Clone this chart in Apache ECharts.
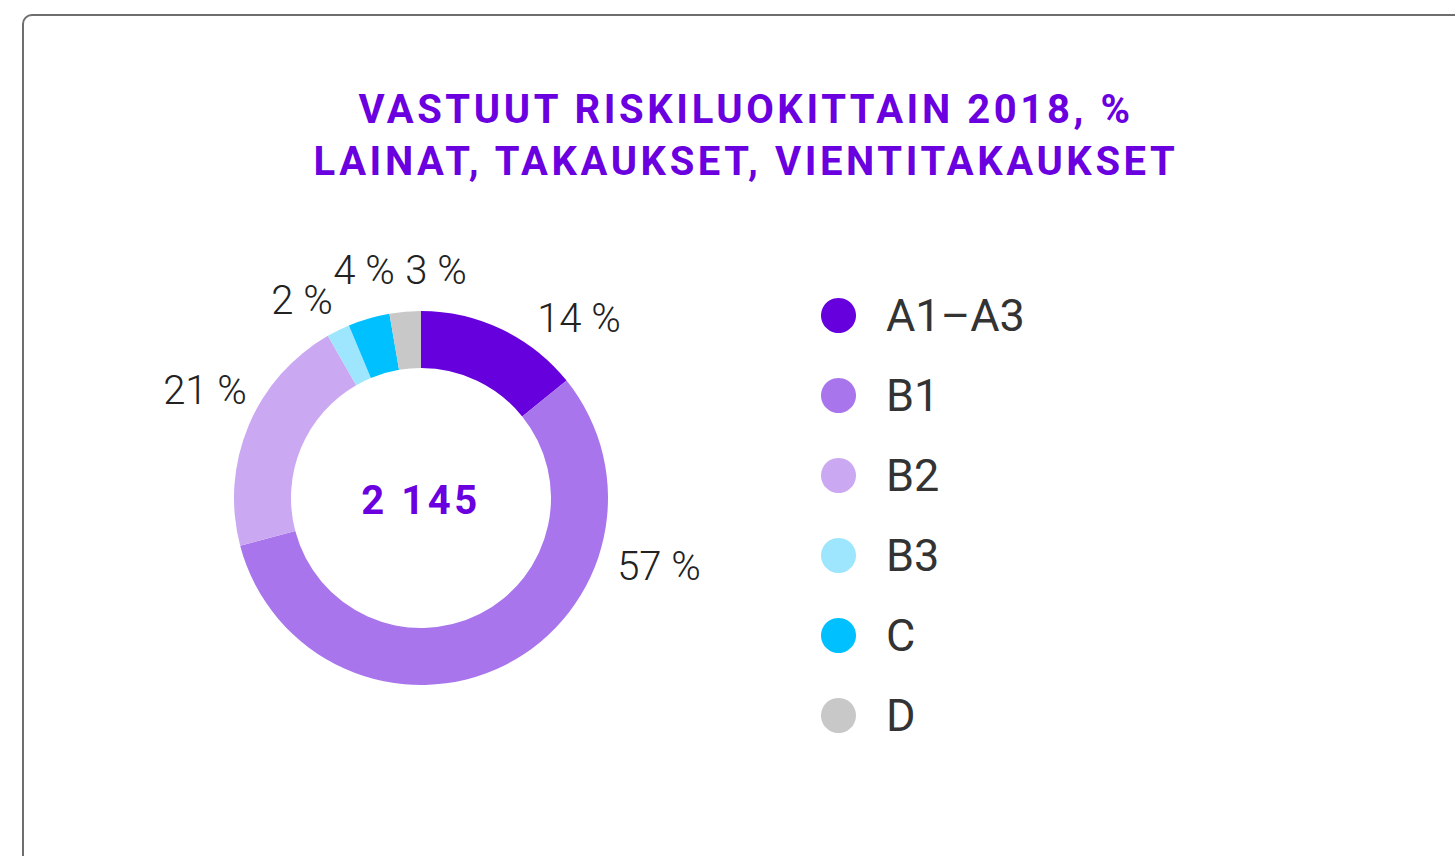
<!DOCTYPE html>
<html>
<head>
<meta charset="utf-8">
<title>Vastuut riskiluokittain 2018</title>
<script src="https://cdn.jsdelivr.net/npm/echarts@6/dist/echarts.min.js"></script>
<style>
html, body { margin: 0; padding: 0; background: #fff; overflow: hidden; }
#card {
    position: absolute;
    left: 22px;
    top: 14px;
    width: 1500px;
    height: 900px;
    border: 2px solid #6e6e6e;
    border-radius: 10px;
    box-sizing: border-box;
}
#riskChart {
    position: absolute;
    left: 0;
    top: 0;
    width: 1455px;
    height: 856px;
}
/* the bold texts (title, total) are spaced out a bit */
#riskChart text[style*="bold"],
#riskChart text[font-weight="bold"] {
    letter-spacing: 3.6px;
}
</style>
</head>
<body>
<div id="card"></div>
<div id="riskChart"></div>
<script>
// luokat ja osuudet (%)
var categories = ['A1–A3', 'B1', 'B2', 'B3', 'C', 'D'];
var shares = [14.2, 56.7, 20.8, 2.0, 3.6, 2.7];
var totalText = '2 145';
var titleLines = ['VASTUUT RISKILUOKITTAIN 2018, %', 'LAINAT, TAKAUKSET, VIENTITAKAUKSET'];

var colors = ['#6600dd', '#a875ec', '#cba8f2', '#9ee6fd', '#00c0ff', '#c8c8c8'];
var purple = '#6a00e0';
var center = [421, 498];
// label spots relative to the pie centre
var labelSpots = [[158, -180], [238, 68], [-216, -108], [-119, -198], [-57, -228], [15, -228]];

var myChart = echarts.init(document.getElementById('riskChart'), null, { renderer: 'svg' });

myChart.setOption({
    color: colors,
    animation: false,
    title: {
        text: titleLines.join('\n'),
        left: 741,
        top: 78,
        textAlign: 'center',
        textStyle: {
            color: purple,
            fontFamily: 'Roboto',
            fontWeight: 'bold',
            fontSize: 40,
            lineHeight: 52
        }
    },
    legend: {
        orient: 'vertical',
        left: 816,
        top: 288,
        icon: 'circle',
        itemWidth: 35,
        itemHeight: 35,
        itemGap: 35,
        selectedMode: false,
        data: categories,
        textStyle: {
            color: '#333',
            fontFamily: 'Roboto',
            fontSize: 45,
            lineHeight: 45,
            padding: [0, 0, 0, 25]
        }
    },
    graphic: [{
        type: 'text',
        x: center[0],
        y: center[1] + 2,
        style: {
            text: totalText,
            fill: purple,
            font: 'bold 40px Roboto',
            align: 'center',
            verticalAlign: 'middle'
        }
    }],
    series: [{
        type: 'pie',
        center: center,
        radius: [130, 187],
        startAngle: 90,
        clockwise: true,
        avoidLabelOverlap: false,
        emphasis: { disabled: true },
        label: {
            show: true,
            position: 'outside',
            color: '#222',
            fontFamily: 'Roboto',
            fontWeight: 300,
            fontSize: 40,
            formatter: function (p) {
                return Math.round(p.value) + ' %';
            }
        },
        labelLine: { show: false },
        labelLayout: function (params) {
            var spot = labelSpots[params.dataIndex];
            return {
                x: center[0] + spot[0],
                y: center[1] + spot[1],
                align: 'center',
                verticalAlign: 'middle'
            };
        },
        data: categories.map(function (name, i) {
            return { name: name, value: shares[i] };
        })
    }]
});
</script>
</body>
</html>
